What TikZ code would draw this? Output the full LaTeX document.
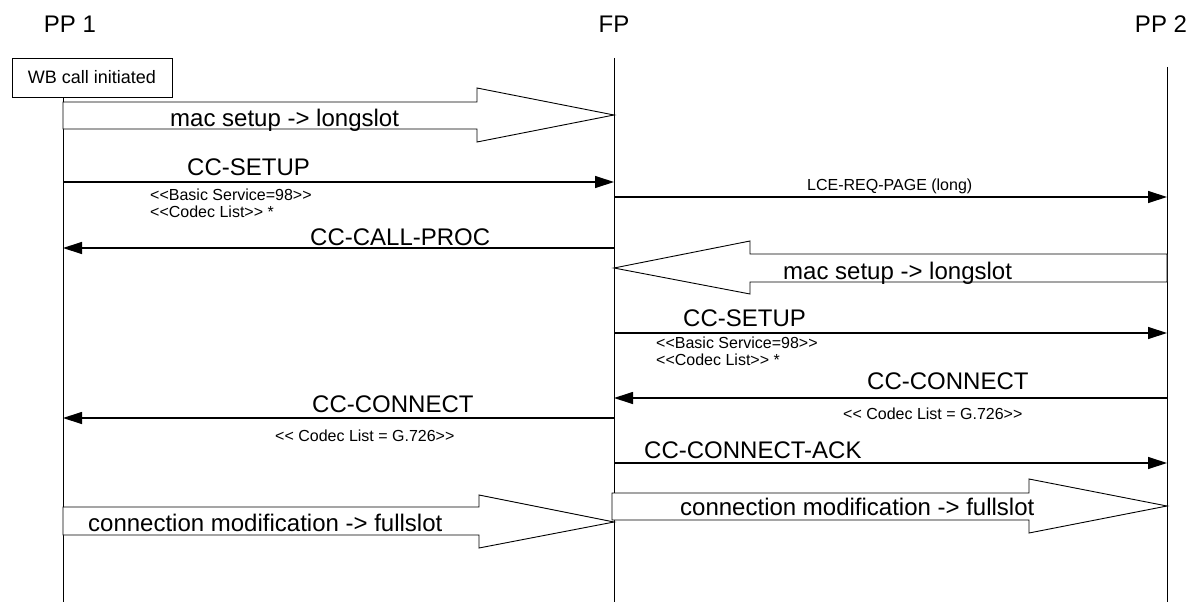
\documentclass[tikz,border=0pt]{standalone}
\usepackage{fontspec}
\setmainfont{Liberation Sans}
\newfontfamily\lsans{Liberation Sans}
\usetikzlibrary{arrows.meta}
\tikzset{
  lifeline/.style={line width=1pt},
  msg/.style={line width=1.2pt, -{Triangle[length=19pt,width=12pt]}},
  fat/.style={draw, line width=0.9pt, fill=white, line join=miter},
  head/.style={font=\lsans\fontsize{24}{28}\selectfont, inner sep=0pt, anchor=base},
  biglbl/.style={font=\lsans\fontsize{24}{28}\selectfont, inner sep=0pt, anchor=base west},
  smalllbl/.style={font=\lsans\fontsize{16}{19}\selectfont, inner sep=0pt, anchor=base west},
  eventbox/.style={draw, line width=0.9pt, minimum width=160pt, minimum height=39pt,
    inner sep=0pt, font=\lsans\fontsize{18}{21}\selectfont}
}
\begin{document}
\begin{tikzpicture}[x=1pt,y=-1pt]
\useasboundingbox (0,0) rectangle (1189,602);

% entity headers
\node[head] (pp1) at (70,33) {PP 1};
\node[head] (fp) at (614,33) {FP};
\node[head] (pp2) at (1161,33) {PP 2};

% event box on PP 1
\node[eventbox] (wb) at (92,77.5) {WB call initiated};

% lifelines
\coordinate (pp1b) at (63,602);
\coordinate (fpt) at (614,58);
\coordinate (fpb) at (614,602);
\coordinate (pp2t) at (1167,67);
\coordinate (pp2b) at (1167,602);
\draw[lifeline] (wb.south -| pp1b) -- (pp1b);
\draw[lifeline] (fpt) -- (fpb);
\draw[lifeline] (pp2t) -- (pp2b);

% MAC level procedures (block arrows)
\draw[fat] (63,102) -- (477,102) -- (477,88) -- (614,115) -- (477,142) -- (477,129) -- (63,129) -- cycle;
\node[biglbl] (mac1) at (170,126) {mac setup -> longslot};

\draw[fat] (1167,254) -- (750,254) -- (750,241) -- (614,268) -- (750,294) -- (750,282) -- (1167,282) -- cycle;
\node[biglbl] (mac2) at (783,279) {mac setup -> longslot};

\draw[fat] (63,507) -- (479,507) -- (479,495) -- (614,522) -- (479,548) -- (479,535) -- (63,535) -- cycle;
\node[biglbl] (mod1) at (88,531) {connection modification -> fullslot};

\draw[fat] (612,493) -- (1029,493) -- (1029,479) -- (1167,506) -- (1029,533) -- (1029,520) -- (612,520) -- cycle;
\node[biglbl] (mod2) at (680,515) {connection modification -> fullslot};

% CC-SETUP from PP 1
\coordinate (s1a) at (63,182);
\coordinate (s1b) at (614,182);
\draw[msg] (s1a) -- (s1b);
\node[biglbl] (s1l) at (187,175.5) {CC-SETUP};
\node[smalllbl] (s1p1) at (150,200) {<<Basic Service=98>>};
\node[smalllbl] (s1p2) at (150,217) {<<Codec List>> *};

% paging
\coordinate (pga) at (614,197);
\coordinate (pgb) at (1167,197);
\draw[msg] (pga) -- (pgb);
\node[smalllbl] (pgl) at (807,190) {LCE-REQ-PAGE (long)};

% CC-CALL-PROC
\coordinate (cpa) at (614,248);
\coordinate (cpb) at (63,248);
\draw[msg] (cpa) -- (cpb);
\node[biglbl] (cpl) at (310,245) {CC-CALL-PROC};

% CC-SETUP to PP 2
\coordinate (s2a) at (614,333);
\coordinate (s2b) at (1167,333);
\draw[msg] (s2a) -- (s2b);
\node[biglbl] (s2l) at (683,326) {CC-SETUP};
\node[smalllbl] (s2p1) at (656,348.5) {<<Basic Service=98>>};
\node[smalllbl] (s2p2) at (656,365.5) {<<Codec List>> *};

% CC-CONNECT from PP 2
\coordinate (c2a) at (1167,398);
\coordinate (c2b) at (614,398);
\draw[msg] (c2a) -- (c2b);
\node[biglbl] (c2l) at (867,389) {CC-CONNECT};
\node[smalllbl] (c2p) at (843,419) {<< Codec List = G.726>>};

% CC-CONNECT to PP 1
\coordinate (c1a) at (614,418);
\coordinate (c1b) at (63,418);
\draw[msg] (c1a) -- (c1b);
\node[biglbl] (c1l) at (312,412) {CC-CONNECT};
\node[smalllbl] (c1p) at (275,441) {<< Codec List = G.726>>};

% CC-CONNECT-ACK
\coordinate (aka) at (614,463);
\coordinate (akb) at (1167,463);
\draw[msg] (aka) -- (akb);
\node[biglbl] (akl) at (644,458) {CC-CONNECT-ACK};
\end{tikzpicture}
\end{document}
